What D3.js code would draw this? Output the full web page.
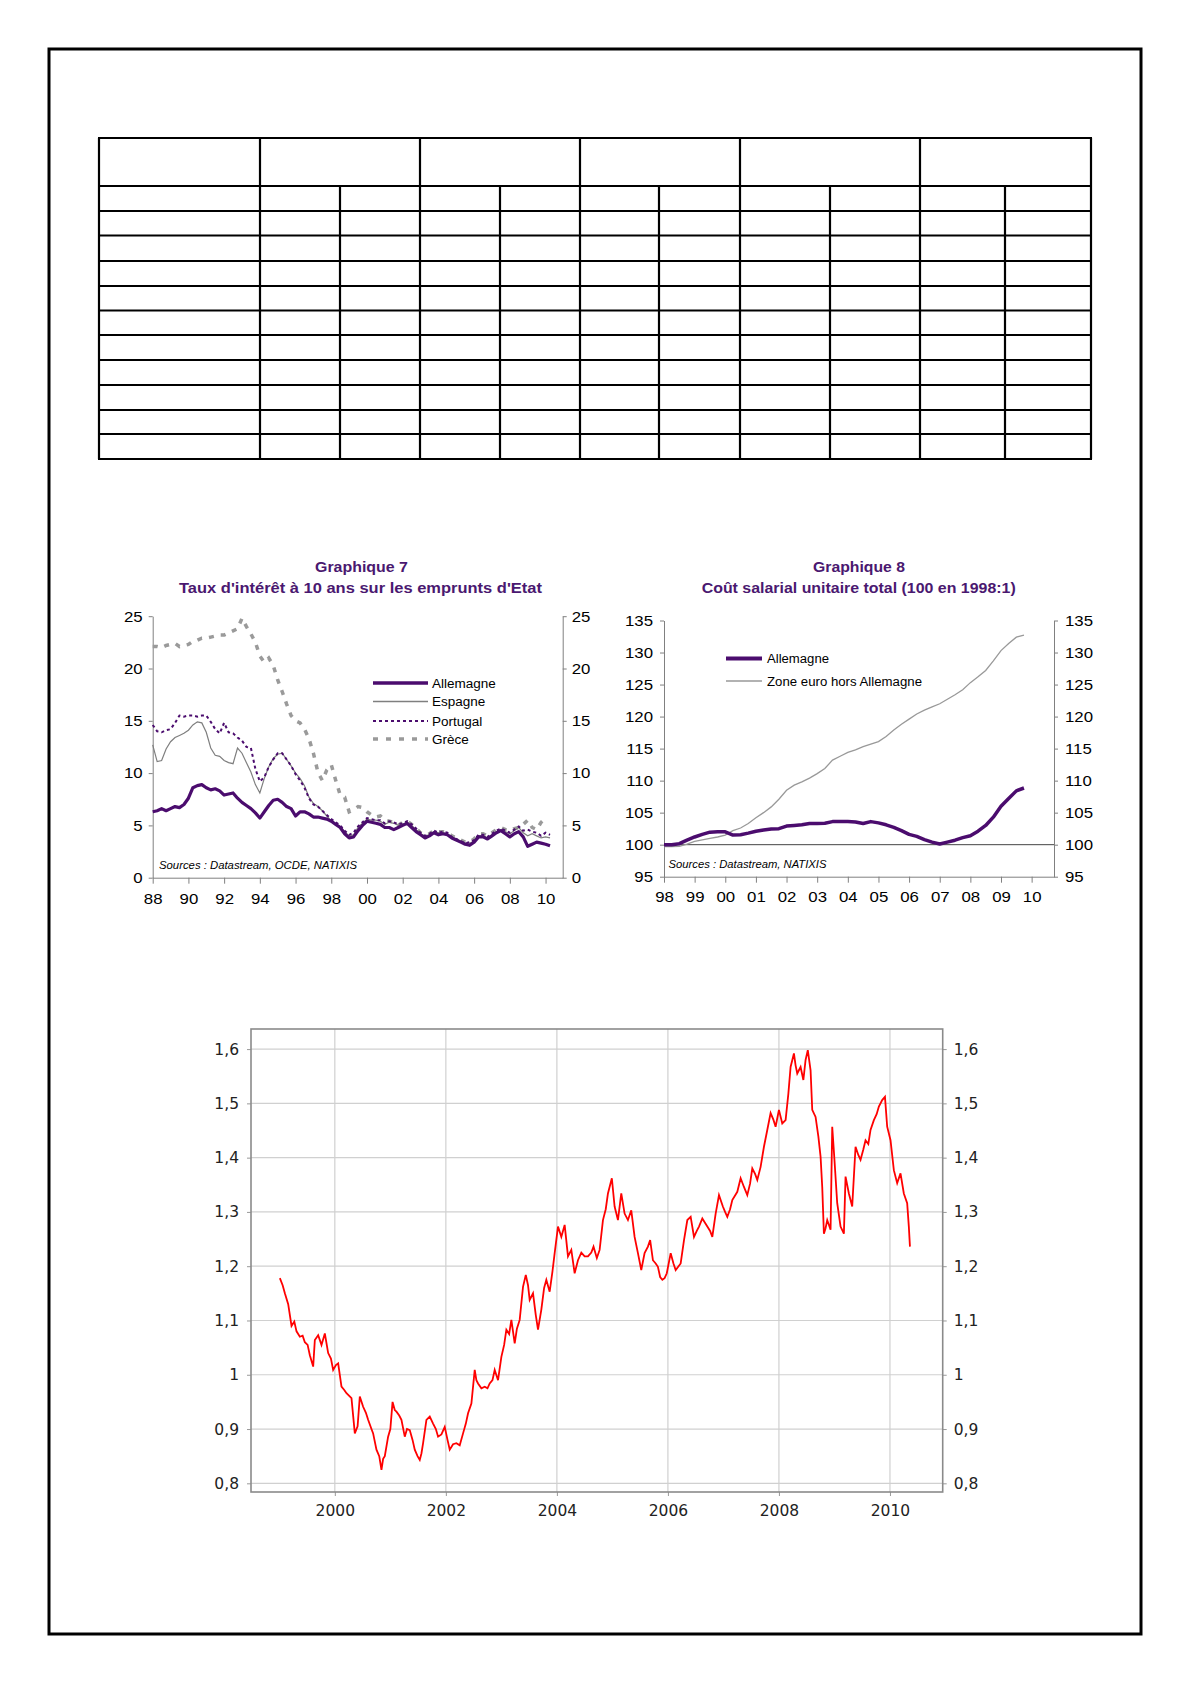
<!DOCTYPE html>
<html><head><meta charset="utf-8">
<script src="https://cdn.jsdelivr.net/npm/d3@7"></script>
<style>body{margin:0;background:#fff} svg{display:block}</style>
</head><body>
<svg id="page" width="1191" height="1684"></svg>
<script>
// ---------- DATA ----------
// Graphique 7 : quarterly, starting 1988 Q1
const ratesStart = 1988;
const ratesSeriesNames = ["Allemagne", "Espagne", "Portugal", "Grèce"];
const ratesAllemagne = [6.3,6.4,6.6,6.4, 6.6,6.8,6.7,7.0, 7.6,8.6,8.8,8.9, 8.6,8.4,8.5,8.3, 7.9,8.0,8.1,7.6, 7.2,6.9,6.6,6.2, 5.7,6.3,6.9,7.4, 7.5,7.2,6.8,6.6, 5.9,6.3,6.3,6.1, 5.8,5.8,5.7,5.6, 5.4,5.1,4.8,4.2, 3.8,3.9,4.5,5.0, 5.4,5.3,5.2,5.1, 4.8,4.8,4.6,4.8, 5.0,5.2,4.8,4.4, 4.1,3.8,4.0,4.3, 4.1,4.2,4.1,3.8, 3.6,3.4,3.2,3.1, 3.4,3.9,3.9,3.7, 4.0,4.3,4.5,4.2, 3.9,4.2,4.4,3.9, 3.0,3.2,3.4,3.3, 3.2,3.05];
const ratesEspagne = [12.7,11.1,11.2,12.3, 13.0,13.4,13.6,13.8, 14.1,14.6,14.9,14.8, 13.9,12.4,11.7,11.6, 11.2,11.0,10.9,12.4, 11.9,11.0,10.1,8.9, 8.1,9.5,10.6,11.4, 11.8,11.9,11.3,10.7, 10.0,9.5,8.8,7.7, 7.1,6.8,6.4,5.9, 5.4,5.1,4.9,4.4, 4.0,4.1,4.8,5.2, 5.6,5.5,5.5,5.4, 5.1,5.3,5.2,5.0, 5.1,5.3,5.0,4.6, 4.2,4.0,4.1,4.4, 4.3,4.3,4.2,3.9, 3.7,3.5,3.3,3.3, 3.5,4.0,4.0,3.8, 4.1,4.4,4.6,4.4, 4.2,4.5,4.8,4.3, 4.0,4.2,4.0,3.8, 3.9,3.8];
const ratesPortugal = [14.6,14.0,13.9,14.1, 14.2,14.8,15.5,15.4, 15.5,15.5,15.4,15.5, 15.5,14.9,14.2,13.8, 14.8,13.9,13.8,13.4, 13.1,12.5,12.4,10.4, 9.2,9.6,10.6,11.3, 11.9,11.9,11.3,10.7, 9.9,9.3,8.6,7.6, 7.0,6.8,6.4,6.0, 5.6,5.3,5.0,4.5, 4.1,4.3,4.9,5.3, 5.7,5.6,5.5,5.5, 5.2,5.4,5.3,5.1, 5.2,5.4,5.1,4.7, 4.3,4.0,4.2,4.5, 4.3,4.4,4.3,3.9, 3.7,3.5,3.3,3.4, 3.6,4.1,4.1,3.9, 4.2,4.5,4.7,4.5, 4.3,4.6,4.9,4.5, 4.6,4.4,4.3,4.0, 4.3,4.1];
const ratesGrece = [22.1,22.1,22.0,22.2, 22.3,22.4,22.1,22.2, 22.3,22.6,22.7,22.9, 22.9,23.0,23.1,23.2, 23.2,23.4,23.6,23.8, 24.8,24.0,23.3,22.5, 21.2,20.6,21.0,20.3, 18.9,17.8,16.6,15.5, 15.0,14.8,14.2,13.3, 11.9,10.1,9.3,10.3, 10.8,9.3,7.9,7.7, 6.3,6.5,6.8,6.7, 6.3,6.0,5.8,5.9, 5.5,5.4,5.3,5.0, 5.3,5.4,5.1,4.7, 4.3,4.1,4.2,4.5, 4.4,4.4,4.3,4.0, 3.8,3.6,3.4,3.4, 3.7,4.2,4.2,4.0, 4.3,4.6,4.8,4.6, 4.5,4.7,4.8,5.1, 5.5,4.8,4.6,5.3, 5.7];
const ratesYTicks = [0, 5, 10, 15, 20, 25];
const ratesXTicks = [1988,1990,1992,1994,1996,1998,2000,2002,2004,2006,2008,2010];

// Graphique 8 : quarterly, starting 1998 Q1
const wageStart = 1998;
const wageAllemagne = [100.0,100.0,100.15,100.7, 101.2,101.6,101.95,102.0, 102.0,101.5,101.55,101.8, 102.1,102.3,102.45,102.5, 102.9,103.0,103.1,103.3, 103.3,103.35,103.6,103.6, 103.6,103.55,103.3,103.6, 103.4,103.1,102.7,102.2, 101.6,101.3,100.8,100.4, 100.1,100.4,100.7,101.1, 101.4,102.1,103.0,104.3, 106.0,107.2,108.4,108.85];
const wageZoneEuro = [99.7,99.7,99.75,100.1, 100.5,100.75,101.0,101.2, 101.5,102.2,102.6,103.3, 104.2,105.0,105.9,107.1, 108.5,109.3,109.8,110.4, 111.1,111.9,113.2,113.8, 114.4,114.8,115.3,115.7, 116.1,116.9,117.9,118.8, 119.6,120.4,121.0,121.5, 122.0,122.7,123.4,124.2, 125.3,126.2,127.2,128.7, 130.3,131.4,132.4,132.7];
const wageYTicks = [95,100,105,110,115,120,125,130,135];
const wageXTicks = [1998,1999,2000,2001,2002,2003,2004,2005,2006,2007,2008,2009,2010];

// Bottom chart : EUR/USD
const fxYears = [1999.01,1999.06,1999.10,1999.16,1999.22,1999.27,1999.31,1999.37,1999.42,1999.46,1999.51,1999.55,1999.61,1999.64,1999.70,1999.76,1999.82,1999.88,1999.93,1999.97,
2000.02,2000.06,2000.12,2000.17,2000.21,2000.30,2000.36,2000.41,2000.45,2000.51,2000.56,2000.60,2000.66,2000.69,2000.75,2000.80,2000.84,2000.87,2000.90,2000.96,
2001.00,2001.04,2001.08,2001.11,2001.16,2001.20,2001.26,2001.30,2001.35,2001.40,2001.44,2001.49,2001.53,2001.56,2001.59,2001.65,2001.71,2001.77,2001.82,2001.86,2001.92,2001.98,
2002.03,2002.07,2002.13,2002.19,2002.25,2002.31,2002.36,2002.40,2002.46,2002.52,2002.55,2002.58,2002.64,2002.70,2002.75,2002.79,2002.84,2002.88,2002.94,
2003.00,2003.05,2003.09,2003.14,2003.18,2003.24,2003.28,2003.33,2003.39,2003.44,2003.48,2003.51,2003.57,2003.62,2003.66,2003.72,2003.77,2003.81,2003.87,2003.92,2003.96,
2004.02,2004.08,2004.14,2004.20,2004.26,2004.32,2004.38,2004.44,2004.50,2004.56,2004.62,2004.66,2004.72,2004.77,2004.83,2004.88,2004.92,2004.99,
2005.04,2005.10,2005.16,2005.22,2005.28,2005.34,2005.40,2005.46,2005.52,2005.58,2005.64,2005.68,2005.73,2005.78,2005.82,2005.86,2005.90,2005.94,2005.98,
2006.05,2006.10,2006.14,2006.23,2006.29,2006.35,2006.41,2006.47,2006.52,2006.56,2006.62,2006.71,2006.76,2006.80,2006.86,2006.92,2006.99,
2007.03,2007.07,2007.12,2007.16,2007.25,2007.31,2007.37,2007.43,2007.48,2007.52,2007.57,2007.61,2007.67,2007.73,2007.79,2007.85,2007.90,2007.94,
2008.00,2008.06,2008.12,2008.17,2008.21,2008.27,2008.30,2008.33,2008.39,2008.44,2008.48,2008.52,2008.57,2008.60,2008.66,2008.71,2008.75,2008.78,2008.81,2008.84,2008.87,2008.93,2008.96,
2009.00,2009.05,2009.11,2009.17,2009.20,2009.26,2009.32,2009.38,2009.43,2009.47,2009.52,2009.56,2009.61,2009.65,2009.71,2009.76,2009.80,2009.86,2009.91,2009.95,
2010.01,2010.07,2010.13,2010.19,2010.25,2010.31,2010.34,2010.36];
const fxValues = [1.178,1.165,1.150,1.130,1.090,1.098,1.080,1.070,1.072,1.060,1.055,1.036,1.015,1.064,1.073,1.055,1.076,1.040,1.030,1.009,
1.018,1.021,0.978,0.972,0.966,0.957,0.892,0.905,0.960,0.941,0.930,0.917,0.900,0.892,0.862,0.850,0.825,0.845,0.850,0.886,
0.900,0.950,0.935,0.932,0.925,0.917,0.886,0.900,0.898,0.880,0.862,0.850,0.843,0.855,0.874,0.917,0.923,0.910,0.900,0.886,0.890,0.904,
0.880,0.862,0.872,0.874,0.870,0.892,0.910,0.929,0.947,1.009,0.990,0.984,0.975,0.978,0.975,0.984,0.990,1.009,0.990,
1.033,1.055,1.083,1.075,1.101,1.058,1.085,1.101,1.162,1.184,1.165,1.138,1.150,1.110,1.083,1.120,1.160,1.175,1.153,1.190,1.224,
1.273,1.254,1.276,1.218,1.230,1.187,1.211,1.225,1.218,1.218,1.225,1.236,1.215,1.230,1.285,1.305,1.334,1.362,
1.310,1.285,1.334,1.297,1.285,1.303,1.254,1.224,1.193,1.224,1.236,1.248,1.211,1.205,1.199,1.180,1.175,1.178,1.187,
1.224,1.205,1.193,1.205,1.248,1.285,1.291,1.254,1.265,1.273,1.288,1.273,1.265,1.254,1.297,1.331,1.310,
1.300,1.291,1.305,1.322,1.337,1.362,1.346,1.331,1.352,1.380,1.370,1.359,1.383,1.420,1.451,1.482,1.470,1.457,
1.488,1.463,1.469,1.518,1.567,1.592,1.570,1.555,1.567,1.543,1.580,1.598,1.561,1.488,1.475,1.439,1.402,1.346,1.260,1.270,1.285,1.267,1.457,
1.396,1.316,1.273,1.260,1.365,1.334,1.310,1.420,1.405,1.396,1.415,1.432,1.425,1.451,1.469,1.480,1.494,1.506,1.512,1.457,
1.432,1.377,1.353,1.371,1.334,1.316,1.273,1.236];
const fxYTicks = [0.8,0.9,1.0,1.1,1.2,1.3,1.4,1.5,1.6];
const fxXTicks = [2000,2002,2004,2006,2008,2010];

// ---------- DRAW ----------
const svg = d3.select("#page");
const FONT = "'Liberation Sans', Arial, sans-serif";
const PURPLE = "#4b0c6e";
const TITLE = "#4a1870";

function stretch(sel, k) {
  sel.each(function () {
    const w = this.getComputedTextLength();
    this.setAttribute("textLength", w * k);
    this.setAttribute("lengthAdjust", "spacingAndGlyphs");
  });
}

// page border
svg.append("rect").attr("x", 49).attr("y", 49).attr("width", 1092).attr("height", 1585)
  .attr("fill", "none").attr("stroke", "#000").attr("stroke-width", 3);

// empty table
(function () {
  const cols = [99, 260, 340, 420, 500, 580, 659, 740, 830, 920, 1005, 1091];
  const rows = [138, 186, 211, 235.5, 261, 286, 310.5, 335, 360, 385, 410, 434, 459];
  const headerCols = [0, 1, 3, 5, 7, 9, 11];
  const g = svg.append("g").attr("stroke", "#000").attr("stroke-width", 2.2);
  rows.forEach(y => g.append("line").attr("x1", cols[0] - 1).attr("x2", cols[11] + 1).attr("y1", y).attr("y2", y));
  cols.forEach((x, i) => {
    const top = headerCols.includes(i) ? rows[0] : rows[1];
    g.append("line").attr("x1", x).attr("x2", x).attr("y1", top).attr("y2", rows[rows.length - 1]);
  });
})();

// ---------- Graphique 7 ----------
(function () {
  const x = d3.scaleLinear().domain([1988, 2010.96]).range([152.7, 562.7]);
  const y = d3.scaleLinear().domain([0, 25]).range([877.7, 616.2]);
  const g = svg.append("g");
  const t = i => ratesStart + i * 0.25;
  const line = d3.line().x((d, i) => x(t(i))).y(d => y(d));

  // axes
  const axL = g.append("g").attr("transform", `translate(${x.range()[0]},0)`)
    .call(d3.axisLeft(y).tickValues(ratesYTicks).tickSize(4).tickSizeOuter(0).tickPadding(6));
  const axR = g.append("g").attr("transform", `translate(${x.range()[1]},0)`)
    .call(d3.axisRight(y).tickValues(ratesYTicks).tickSize(4).tickSizeOuter(0).tickPadding(5));
  const axB = g.append("g").attr("transform", `translate(0,${y(0)})`)
    .call(d3.axisBottom(x).tickValues(ratesXTicks).tickSize(6).tickSizeOuter(0).tickPadding(10)
      .tickFormat(d => String(d % 100).padStart(2, "0")));
  [axL, axR, axB].forEach(a => {
    a.selectAll("path,line").attr("stroke", "#808080");
    a.selectAll("text").attr("font-family", FONT).attr("font-size", 15).attr("fill", "#000");
    stretch(a.selectAll("text"), 1.12);
  });

  // series
  g.append("path").datum(ratesGrece).attr("d", line).attr("fill", "none")
    .attr("stroke", "#9a9a9a").attr("stroke-width", 3.5).attr("stroke-dasharray", "5,7");
  g.append("path").datum(ratesEspagne).attr("d", line).attr("fill", "none")
    .attr("stroke", "#7f7f7f").attr("stroke-width", 1.2);
  g.append("path").datum(ratesPortugal).attr("d", line).attr("fill", "none")
    .attr("stroke", PURPLE).attr("stroke-width", 2).attr("stroke-dasharray", "3,3");
  g.append("path").datum(ratesAllemagne).attr("d", line).attr("fill", "none")
    .attr("stroke", PURPLE).attr("stroke-width", 3.2).attr("stroke-linejoin", "round");

  // legend
  const styles = [
    { stroke: PURPLE, w: 3.5, dash: null },
    { stroke: "#7f7f7f", w: 1.3, dash: null },
    { stroke: PURPLE, w: 2, dash: "3,3" },
    { stroke: "#9a9a9a", w: 3.5, dash: "5,8" }
  ];
  const ly = [683, 701.5, 721, 739];
  ratesSeriesNames.forEach((n, i) => {
    g.append("line").attr("x1", 373).attr("x2", 428).attr("y1", ly[i]).attr("y2", ly[i])
      .attr("stroke", styles[i].stroke).attr("stroke-width", styles[i].w)
      .attr("stroke-dasharray", styles[i].dash);
    const tx = g.append("text").attr("x", 432).attr("y", ly[i] + 4.5).text(n)
      .attr("font-family", FONT).attr("font-size", 12.5).attr("fill", "#000");
    stretch(tx, 1.08);
  });

  g.append("text").attr("x", 159).attr("y", 869).text("Sources : Datastream, OCDE, NATIXIS")
    .attr("font-family", FONT).attr("font-size", 11.3).attr("font-style", "italic")
    .attr("textLength", 198).attr("lengthAdjust", "spacingAndGlyphs");

  g.append("text").attr("x", 361.5).attr("y", 572).attr("text-anchor", "middle").text("Graphique 7")
    .attr("font-family", FONT).attr("font-size", 15).attr("font-weight", "bold").attr("fill", TITLE)
    .attr("textLength", 93).attr("lengthAdjust", "spacingAndGlyphs");
  g.append("text").attr("x", 360.5).attr("y", 593).attr("text-anchor", "middle")
    .text("Taux d'intérêt à 10 ans sur les emprunts d'Etat")
    .attr("font-family", FONT).attr("font-size", 15).attr("font-weight", "bold").attr("fill", TITLE)
    .attr("textLength", 363).attr("lengthAdjust", "spacingAndGlyphs");
})();

// ---------- Graphique 8 ----------
(function () {
  const x = d3.scaleLinear().domain([1998, 2010.73]).range([664, 1054]);
  const y = d3.scaleLinear().domain([95, 135]).range([876.7, 620.5]);
  const g = svg.append("g");
  const t = i => wageStart + i * 0.25;
  const line = d3.line().x((d, i) => x(t(i))).y(d => y(d));

  const axL = g.append("g").attr("transform", `translate(${x.range()[0]},0)`)
    .call(d3.axisLeft(y).tickValues(wageYTicks).tickSize(4).tickSizeOuter(0).tickPadding(7));
  const axR = g.append("g").attr("transform", `translate(${x.range()[1]},0)`)
    .call(d3.axisRight(y).tickValues(wageYTicks).tickSize(4).tickSizeOuter(0).tickPadding(7));
  const axB = g.append("g").attr("transform", `translate(0,${y(95)})`)
    .call(d3.axisBottom(x).tickValues(wageXTicks).tickSize(6).tickSizeOuter(0).tickPadding(9)
      .tickFormat(d => String(d % 100).padStart(2, "0")));
  [axL, axR, axB].forEach(a => {
    a.selectAll("path,line").attr("stroke", "#808080");
    a.selectAll("text").attr("font-family", FONT).attr("font-size", 15).attr("fill", "#000");
    stretch(a.selectAll("text"), 1.12);
  });

  g.append("line").attr("x1", x.range()[0]).attr("x2", x.range()[1]).attr("y1", y(100)).attr("y2", y(100))
    .attr("stroke", "#444").attr("stroke-width", 1);

  g.append("path").datum(wageZoneEuro).attr("d", line).attr("fill", "none")
    .attr("stroke", "#999").attr("stroke-width", 1.3);
  g.append("path").datum(wageAllemagne).attr("d", line).attr("fill", "none")
    .attr("stroke", PURPLE).attr("stroke-width", 3.5).attr("stroke-linejoin", "round");

  g.append("line").attr("x1", 726).attr("x2", 762).attr("y1", 658.5).attr("y2", 658.5)
    .attr("stroke", PURPLE).attr("stroke-width", 3.8);
  g.append("line").attr("x1", 726).attr("x2", 762).attr("y1", 681).attr("y2", 681)
    .attr("stroke", "#999").attr("stroke-width", 1.3);
  g.append("text").attr("x", 767).attr("y", 663).text("Allemagne")
    .attr("font-family", FONT).attr("font-size", 12.5).attr("textLength", 62).attr("lengthAdjust", "spacingAndGlyphs");
  g.append("text").attr("x", 767).attr("y", 685.5).text("Zone euro hors Allemagne")
    .attr("font-family", FONT).attr("font-size", 12.5).attr("textLength", 155).attr("lengthAdjust", "spacingAndGlyphs");

  g.append("text").attr("x", 668.5).attr("y", 868).text("Sources : Datastream, NATIXIS")
    .attr("font-family", FONT).attr("font-size", 11.3).attr("font-style", "italic")
    .attr("textLength", 158).attr("lengthAdjust", "spacingAndGlyphs");

  g.append("text").attr("x", 859).attr("y", 572).attr("text-anchor", "middle").text("Graphique 8")
    .attr("font-family", FONT).attr("font-size", 15).attr("font-weight", "bold").attr("fill", TITLE)
    .attr("textLength", 92).attr("lengthAdjust", "spacingAndGlyphs");
  g.append("text").attr("x", 858.7).attr("y", 593).attr("text-anchor", "middle")
    .text("Coût salarial unitaire total (100 en 1998:1)")
    .attr("font-family", FONT).attr("font-size", 15).attr("font-weight", "bold").attr("fill", TITLE)
    .attr("textLength", 314).attr("lengthAdjust", "spacingAndGlyphs");
})();

// ---------- EUR/USD ----------
(function () {
  const x = d3.scaleLinear().domain([1998.49, 2010.95]).range([251, 942.7]);
  const y = d3.scaleLinear().domain([0.784, 1.637]).range([1492, 1029]);
  const g = svg.append("g");
  const fmt = d => (Math.abs(d - 1) < 1e-9 ? "1" : d3.format(".1f")(d).replace(".", ","));
  const FX_FONT = "'DejaVu Sans', Verdana, sans-serif";

  // grid
  g.append("g").selectAll("line").data(fxYTicks).join("line")
    .attr("x1", x.range()[0]).attr("x2", x.range()[1]).attr("y1", d => y(d)).attr("y2", d => y(d))
    .attr("stroke", "#d0d0d0").attr("stroke-width", 1.2);
  g.append("g").selectAll("line").data(fxXTicks).join("line")
    .attr("x1", d => x(d)).attr("x2", d => x(d)).attr("y1", y.range()[0]).attr("y2", y.range()[1])
    .attr("stroke", "#d0d0d0").attr("stroke-width", 1.2);

  const axL = g.append("g").attr("transform", `translate(${x.range()[0]},0)`)
    .call(d3.axisLeft(y).tickValues(fxYTicks).tickSize(4).tickSizeOuter(0).tickPadding(8).tickFormat(fmt));
  const axR = g.append("g").attr("transform", `translate(${x.range()[1]},0)`)
    .call(d3.axisRight(y).tickValues(fxYTicks).tickSize(4).tickSizeOuter(0).tickPadding(7).tickFormat(fmt));
  const axB = g.append("g").attr("transform", `translate(0,${y.range()[0]})`)
    .call(d3.axisBottom(x).tickValues(fxXTicks).tickSize(4).tickSizeOuter(0).tickPadding(9).tickFormat(d3.format("d")));
  [axL, axR, axB].forEach(a => {
    a.select(".domain").remove();
    a.selectAll("line").attr("stroke", "#999");
    a.selectAll("text").attr("font-family", FX_FONT).attr("font-size", 15.5).attr("fill", "#222");
  });

  g.append("rect").attr("x", x.range()[0]).attr("y", y.range()[1])
    .attr("width", x.range()[1] - x.range()[0]).attr("height", y.range()[0] - y.range()[1])
    .attr("fill", "none").attr("stroke", "#8a8a8a").attr("stroke-width", 1.6);

  const line = d3.line().x((d, i) => x(fxYears[i])).y(d => y(d));
  g.append("path").datum(fxValues).attr("d", line).attr("fill", "none")
    .attr("stroke", "#ff0000").attr("stroke-width", 1.8).attr("stroke-linejoin", "miter");
})();
</script>
</body></html>
